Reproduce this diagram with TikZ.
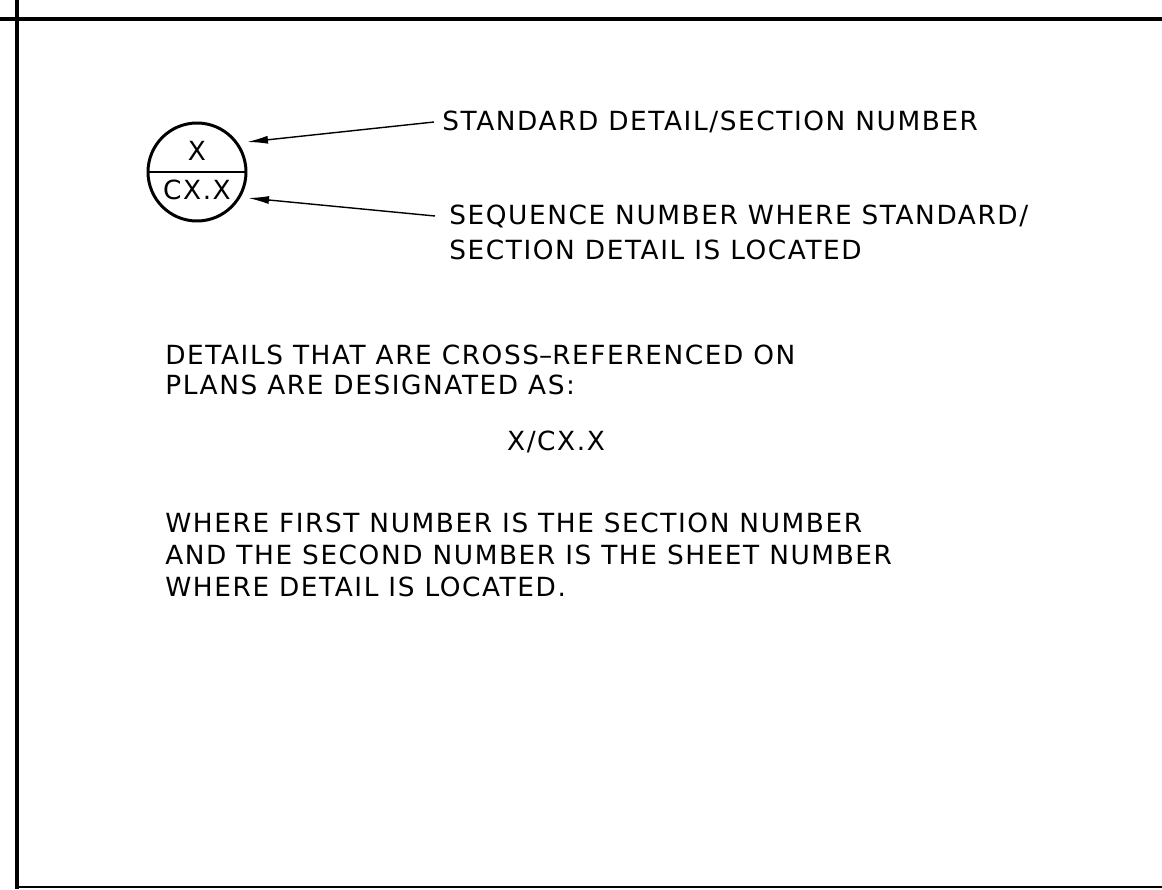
\documentclass[tikz,border=0pt]{standalone}
\usepackage{fontspec}
\setmainfont{DejaVu Sans}[LetterSpace=6]
\usepackage{tikz}
\usetikzlibrary{arrows.meta,positioning,calc}

\begin{document}
\begin{tikzpicture}[x=0.02cm,y=-0.02cm,
note/.style={anchor=west,inner sep=0pt,font=\fontsize{15}{18}\selectfont},
tagtxt/.style={inner sep=0pt,font=\fontsize{15}{18}\selectfont},
arr/.style={-{Latex[length=4.2mm,width=1.6mm]},line width=0.8pt},
frame/.style={line width=2.8pt}]
\useasboundingbox (0,0) rectangle (1162,889);
% sheet border
\draw[frame] (0,19)--(1162,19);
\draw[frame] (17,0)--(17,889);
\draw[line width=1pt] (17,887)--(1162,887);
% detail tag
\node[draw,circle,line width=1.7pt,minimum size=98*0.02cm,inner sep=0pt] (tag) at (197,172) {};
\draw[line width=1.2pt] (tag.west)--(tag.east);
\node[tagtxt] (num) at (197,151) {X};
\node[tagtxt] (sheet) at (197,190) {CX.X};
% callouts
\node[note] (std) at (442,122) {STANDARD DETAIL/SECTION NUMBER};
\node[note] (seq) at (449,216) {SEQUENCE NUMBER WHERE STANDARD/};
\node[note] (seq2) at (449,250) {SECTION DETAIL IS LOCATED};
\coordinate (p1) at (247,142);
\coordinate (p2) at (248,198);
\draw[arr] ($(std.west)+(-8,0)$)--(p1);
\draw[arr] ($(seq.west)+(-14,0)$)--(p2);
% notes
\node[note] (d1) at (165,355) {DETAILS THAT ARE CROSS{\fontspec{DejaVu Sans}–}REFERENCED ON};
\node[note] (d2) at (165,385) {PLANS ARE DESIGNATED AS:};
\node[tagtxt] (fmt) at (556,442) {X/CX.X};
\node[note] (w1) at (165,523) {WHERE FIRST NUMBER IS THE SECTION NUMBER};
\node[note] (w2) at (165,555) {AND THE SECOND NUMBER IS THE SHEET NUMBER};
\node[note] (w3) at (165,587) {WHERE DETAIL IS LOCATED.};
\end{tikzpicture}
\end{document}
